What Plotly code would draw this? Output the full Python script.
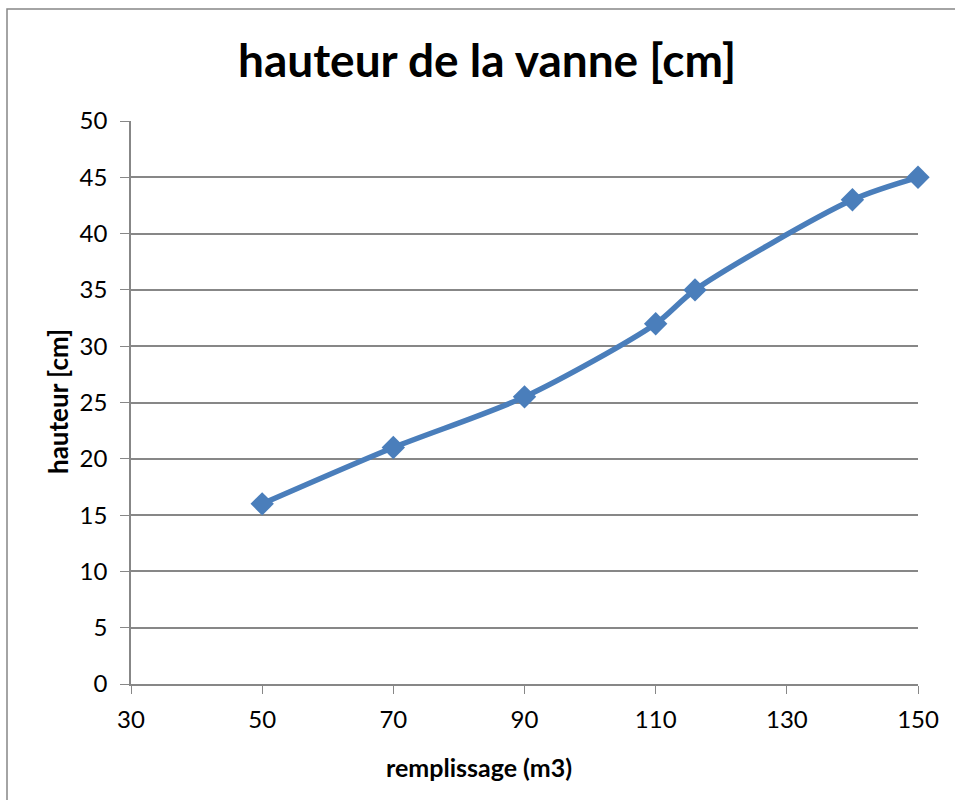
import plotly.graph_objects as go

remplissage = [50, 70, 90, 110, 116, 140, 150]
hauteur = [16, 21, 25.5, 32, 35, 43, 45]
x_ticks = [30, 50, 70, 90, 110, 130, 150]
y_ticks = [0, 5, 10, 15, 20, 25, 30, 35, 40, 45, 50]

FONT = "Lato"
L, R, T, B = 131, 37, 121, 116
W, H = 955, 800
pw = W - L - R
ph = H - T - B

fig = go.Figure()
fig.add_trace(go.Scatter(
    x=remplissage, y=hauteur, mode="lines+markers",
    line=dict(color="#4a7ebb", width=5.5, shape="spline", smoothing=0.8),
    marker=dict(symbol="diamond", size=18, color="#4a7ebb"),
    showlegend=False, cliponaxis=False,
))

def px_x(p):
    return (p - L) / pw

def px_y(p):
    return (H - B - p) / ph

fig.update_layout(
    width=W, height=H,
    margin=dict(l=L, r=R, t=T, b=B),
    plot_bgcolor="white", paper_bgcolor="white",
    font=dict(family=FONT, color="black"),
    title=dict(text="<b>hauteur de la vanne [cm]</b>", x=487 / W, xanchor="center",
               y=1 - 61 / H, yanchor="middle", yref="container", xref="container",
               font=dict(size=46, family=FONT, color="black")),
    xaxis=dict(range=[30, 150], tickvals=x_ticks, showgrid=False, zeroline=False,
               showline=True, linecolor="#878787", linewidth=1.5,
               ticks="outside", ticklen=8, tickcolor="#878787",
               tickfont=dict(size=24, family=FONT), ticklabelstandoff=5),
    yaxis=dict(range=[0, 50], tickvals=y_ticks, showgrid=True, gridcolor="#878787",
               gridwidth=1.5, zeroline=False, showline=True, linecolor="#878787",
               linewidth=1.5, ticks="outside", ticklen=9, tickcolor="#878787",
               tickfont=dict(size=24, family=FONT), ticklabelstandoff=8),
    shapes=[dict(type="rect", xref="paper", yref="paper",
                 x0=px_x(7), x1=px_x(975), y0=px_y(815), y1=px_y(9),
                 line=dict(color="#878787", width=1.5), fillcolor="rgba(0,0,0,0)",
                 layer="below")],
    annotations=[
        dict(text="<b>hauteur [cm]</b>", textangle=-90, xref="paper", yref="paper",
             x=px_x(58), y=px_y(402), xanchor="center", yanchor="middle", showarrow=False,
             font=dict(size=26, family=FONT)),
        dict(text="<b>remplissage (m3)</b>", xref="paper", yref="paper",
             x=px_x(479), y=px_y(767), xanchor="center", yanchor="middle", showarrow=False,
             font=dict(size=25, family=FONT)),
    ],
)

fig.write_html("out.html", config={"displayModeBar": False},
               post_script="document.body.style.margin='0';")
